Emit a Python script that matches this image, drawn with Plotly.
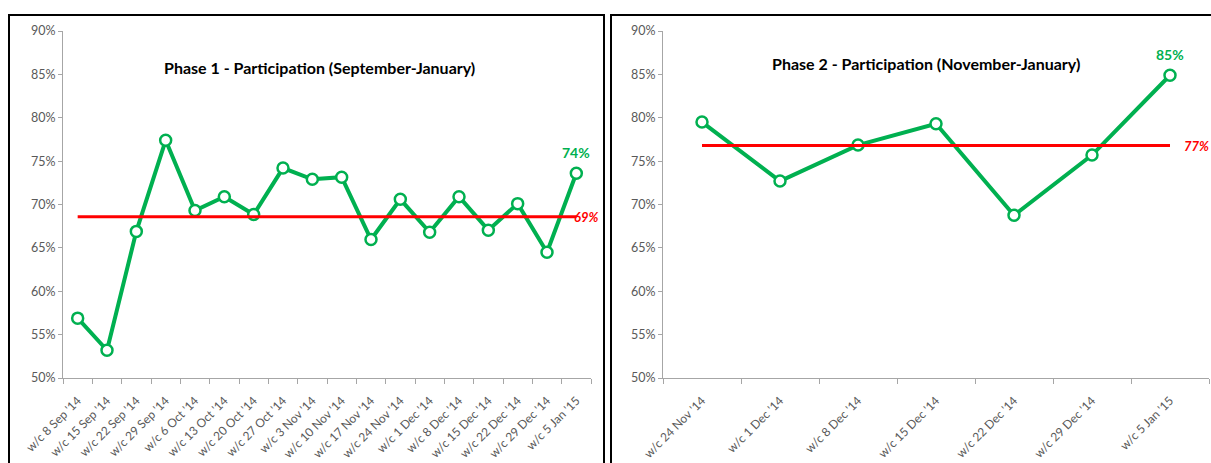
import plotly.graph_objects as go

# ---------------- data ----------------
p1_weeks = ["w/c 8 Sep '14", "w/c 15 Sep '14", "w/c 22 Sep '14", "w/c 29 Sep '14",
            "w/c 6 Oct '14", "w/c 13 Oct '14", "w/c 20 Oct '14", "w/c 27 Oct '14",
            "w/c 3 Nov '14", "w/c 10 Nov '14", "w/c 17 Nov '14", "w/c 24 Nov '14",
            "w/c 1 Dec '14", "w/c 8 Dec '14", "w/c 15 Dec '14", "w/c 22 Dec '14",
            "w/c 29 Dec '14", "w/c 5 Jan '15"]
p1_values = [56.9, 53.2, 66.9, 77.4, 69.3, 70.9, 68.85, 74.2, 72.9, 73.15,
             65.96, 70.6, 66.8, 70.9, 67.04, 70.1, 64.5, 73.6]
p1_average = 68.6

p2_weeks = ["w/c 24 Nov '14", "w/c 1 Dec '14", "w/c 8 Dec '14", "w/c 15 Dec '14",
            "w/c 22 Dec '14", "w/c 29 Dec '14", "w/c 5 Jan '15"]
p2_values = [79.5, 72.7, 76.85, 79.3, 68.75, 75.7, 84.9]
p2_average = 76.8

titles = ["Phase 1 - Participation (September-January)",
          "Phase 2 - Participation (November-January)"]
y_ticks = [50, 55, 60, 65, 70, 75, 80, 85, 90]
y_tick_labels = ["50%", "55%", "60%", "65%", "70%", "75%", "80%", "85%", "90%"]

# ---------------- styling ----------------
W, H = 1211, 463
GREEN = "#00B050"
RED = "#FF0000"
AXIS = "#A6A6A6"
TICKTXT = "#595959"
FONT = "Lato"

def px_x(v):
    return v / W

def px_y(v):
    return (H - v) / H

fig = go.Figure()

panels = [
    dict(weeks=p1_weeks, vals=p1_values, avg=p1_average, xa="x", ya="y",
         dom=[px_x(63), px_x(591)], title=titles[0], tx=px_x(319), ty=px_y(68),
         avg_shift=-4),
    dict(weeks=p2_weeks, vals=p2_values, avg=p2_average, xa="x2", ya="y2",
         dom=[px_x(663), px_x(1209)], title=titles[1], tx=px_x(926), ty=px_y(63),
         avg_shift=12),
]

ydom = [px_y(378), px_y(31)]

for i, p in enumerate(panels):
    fig.add_trace(go.Scatter(
        x=p["weeks"], y=p["vals"], mode="lines+markers",
        line=dict(color=GREEN, width=4),
        marker=dict(symbol="circle", size=11, color="white",
                    line=dict(color=GREEN, width=2.5)),
        xaxis=p["xa"], yaxis=p["ya"], showlegend=False, hoverinfo="x+y"))
    fig.add_trace(go.Scatter(
        x=[p["weeks"][0], p["weeks"][-1]], y=[p["avg"], p["avg"]], mode="lines",
        line=dict(color=RED, width=3),
        xaxis=p["xa"], yaxis=p["ya"], showlegend=False, hoverinfo="y"))

    suffix = "" if i == 0 else "2"
    fig.update_layout(**{
        "xaxis" + suffix: dict(
            domain=p["dom"], anchor="y" + suffix, type="category",
            range=[-0.5, len(p["weeks"]) - 0.5], automargin=False,
            showline=True, linecolor=AXIS, linewidth=1,
            ticks="outside", tickson="boundaries", ticklen=5, tickcolor=AXIS,
            ticklabelstandoff=10,
            tickangle=-45, tickfont=dict(family=FONT, size=12, color=TICKTXT),
            showgrid=False, zeroline=False, fixedrange=True),
        "yaxis" + suffix: dict(
            domain=ydom, anchor="x" + suffix, range=[50, 90], automargin=False,
            tickmode="array", tickvals=y_ticks, ticktext=y_tick_labels,
            showline=True, linecolor=AXIS, linewidth=1,
            ticks="outside", ticklen=4, tickcolor=AXIS,
            tickfont=dict(family=FONT, size=12.5, color=TICKTXT),
            showgrid=False, zeroline=False, fixedrange=True),
    })

    # title
    fig.add_annotation(x=p["tx"], y=p["ty"], xref="paper", yref="paper",
                       xanchor="center", yanchor="middle",
                       text="<b>" + p["title"] + "</b>", showarrow=False,
                       font=dict(family=FONT, size=16, color="black"))
    # last value label
    fig.add_annotation(x=p["weeks"][-1], y=p["vals"][-1],
                       xref=p["xa"], yref=p["ya"],
                       text="<b>%d%%</b>" % round(p["vals"][-1]),
                       showarrow=False, yshift=21,
                       font=dict(family=FONT, size=14, color=GREEN))
    # average label
    fig.add_annotation(x=p["weeks"][-1], y=p["avg"],
                       xref=p["xa"], yref=p["ya"],
                       text="<b><i>%d%%</i></b>" % round(p["avg"]),
                       showarrow=False, xanchor="left", xshift=p["avg_shift"],
                       font=dict(family=FONT, size=13, color=RED))

# panel borders
fig.add_shape(type="rect", xref="paper", yref="paper",
              x0=px_x(9), x1=px_x(604), y0=-0.2, y1=px_y(15),
              line=dict(color="black", width=2), layer="below")
fig.add_shape(type="rect", xref="paper", yref="paper",
              x0=px_x(611), x1=1.2, y0=-0.2, y1=px_y(15),
              line=dict(color="black", width=2), layer="below")

fig.update_layout(
    width=W, height=H,
    margin=dict(l=0, r=0, t=0, b=0, autoexpand=False),
    paper_bgcolor="white", plot_bgcolor="white",
    font=dict(family=FONT),
)

fig.write_html("out.html")
